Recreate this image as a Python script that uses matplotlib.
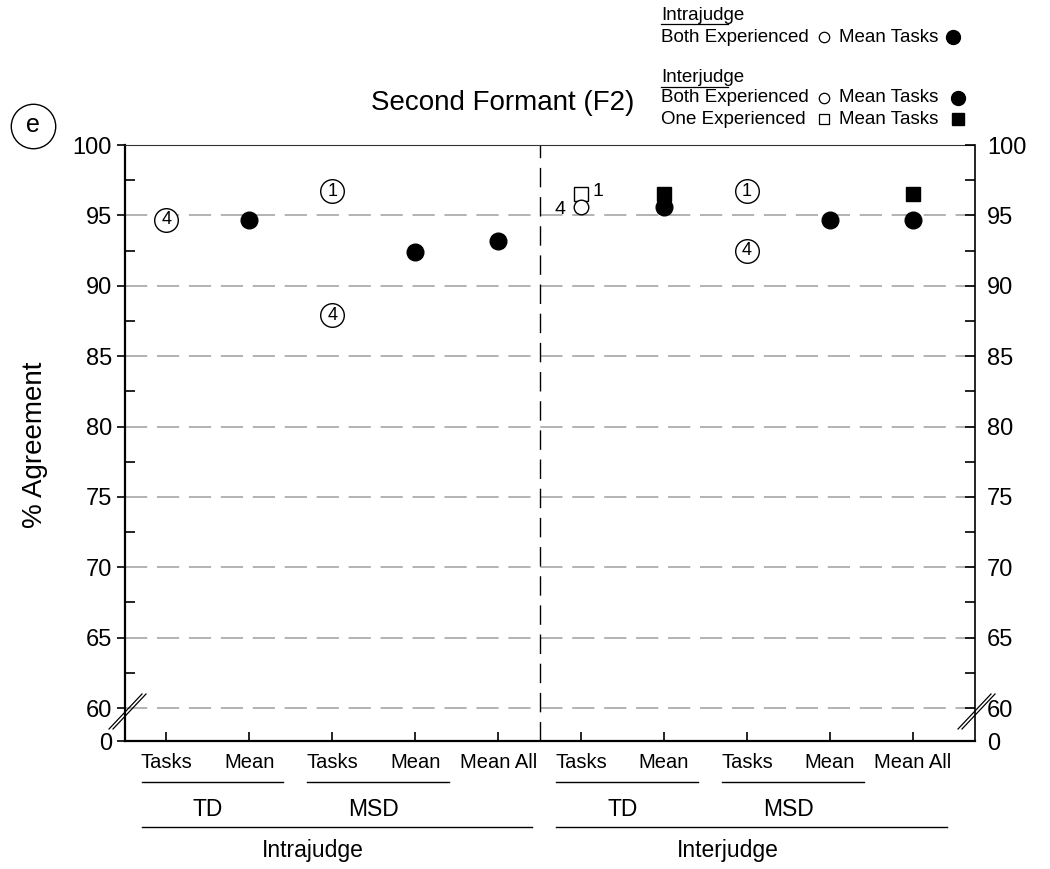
import matplotlib.pyplot as plt
from matplotlib.lines import Line2D

plt.rcParams['font.family'] = ['Liberation Sans', 'DejaVu Sans']
plt.rcParams['lines.scale_dashes'] = False

# category axis (two halves: intrajudge | interjudge)
categories = ["Tasks", "Mean", "Tasks", "Mean", "Mean All",
              "Tasks", "Mean", "Tasks", "Mean", "Mean All"]
positions = list(range(len(categories)))

# intrajudge: individual tasks (circled task number) and means
intra_task_x = [0, 2, 2]
intra_task_y = [94.7, 96.7, 87.9]
intra_task_id = ["4", "1", "4"]
intra_mean_x = [1, 3, 4]
intra_mean_y = [94.7, 92.4, 93.2]

# interjudge: circled tasks, both-experienced / one-experienced points
inter_task_x = [7, 7]
inter_task_y = [96.7, 92.5]
inter_task_id = ["1", "4"]
inter_both_task_x = [5]
inter_both_task_y = [95.6]
inter_both_task_id = ["4"]
inter_one_task_x = [5]
inter_one_task_y = [96.5]
inter_one_task_id = ["1"]
inter_both_mean_x = [6, 8, 9]
inter_both_mean_y = [95.6, 94.7, 94.7]
inter_one_mean_x = [6, 9]
inter_one_mean_y = [96.5, 96.5]

# broken y axis: the "0" tick sits just below 60
Y_ZERO = 57.66
ytick_values = [Y_ZERO, 60, 65, 70, 75, 80, 85, 90, 95, 100]
ytick_labels = ["0", "60", "65", "70", "75", "80", "85", "90", "95", "100"]
yminor_values = [62.5, 67.5, 72.5, 77.5, 82.5, 87.5, 92.5, 97.5]
grid_levels = [60, 65, 70, 75, 80, 85, 90, 95]

# bracket groups: (label, first index, last index, level)
groups = [("TD", 0, 1, 1), ("MSD", 2, 3, 1), ("Intrajudge", 0, 4, 2),
          ("TD", 5, 6, 1), ("MSD", 7, 8, 1), ("Interjudge", 5, 9, 2)]

W, H = 1050, 869


def fx(x):
    return x / W


def fy(y):
    return 1 - y / H


fig = plt.figure(figsize=(10.5, 8.69), dpi=100)
ax = fig.add_axes([fx(125), fy(741), 850 / W, 596 / H])
ax.set_xlim(-0.5, 9.75)
ax.set_ylim(Y_ZERO, 100)

for lev in grid_levels:
    ax.axhline(lev, color="#a6a6a6", lw=1.2, ls=(0, (16, 7)), zorder=1)
ax.axvline(4.5, color="black", lw=1.0, ls=(0, (14, 7)), zorder=1)

# circled task numbers
for xs, ys, ids in [(intra_task_x, intra_task_y, intra_task_id),
                    (inter_task_x, inter_task_y, inter_task_id)]:
    ax.plot(xs, ys, "o", ms=17, mfc="white", mec="black", mew=1.0,
            ls="none", zorder=3)
    for x, y, t in zip(xs, ys, ids):
        ax.text(x, y, t, ha="center", va="center", fontsize=13, zorder=4)

ax.plot(intra_mean_x, intra_mean_y, "o", ms=12, color="black", ls="none", zorder=3)
ax.plot(inter_both_mean_x, inter_both_mean_y, "o", ms=12, color="black",
        ls="none", zorder=3)
ax.plot(inter_one_mean_x, inter_one_mean_y, "s", ms=10.5, color="black",
        ls="none", zorder=3)

ax.plot(inter_one_task_x, inter_one_task_y, "s", ms=9.5, mfc="white",
        mec="black", mew=1.0, ls="none", zorder=3)
ax.plot(inter_both_task_x, inter_both_task_y, "o", ms=10.5, mfc="white",
        mec="black", mew=1.0, ls="none", zorder=4)
for x, y, t in zip(inter_both_task_x, inter_both_task_y, inter_both_task_id):
    ax.annotate(t, (x, y), xytext=(-15, -1.5), textcoords="offset points",
                ha="center", va="center", fontsize=14)
for x, y, t in zip(inter_one_task_x, inter_one_task_y, inter_one_task_id):
    ax.annotate(t, (x, y), xytext=(12, 2), textcoords="offset points",
                ha="center", va="center", fontsize=14)

# axes styling
ax.spines["left"].set_linewidth(1.6)
ax.spines["bottom"].set_linewidth(1.6)
ax.spines["right"].set_linewidth(1.2)
ax.spines["top"].set_linewidth(0.8)
ax.spines["top"].set_color("#333333")

ax.set_xticks(positions, categories, fontsize=14.5)
ax.tick_params(axis="x", direction="in", length=6.5, width=1.2, pad=9)

ax.set_yticks(ytick_values, ytick_labels, fontsize=17)
ax.set_yticks(yminor_values, minor=True)
ax.tick_params(axis="y", which="major", direction="out", length=6, width=1.2, pad=3.5)
ax.tick_params(axis="y", which="minor", direction="in", length=7, width=1.2)

ax2 = ax.twinx()
ax2.set_ylim(Y_ZERO, 100)
for s in ax2.spines.values():
    s.set_visible(False)
ax2.set_yticks(ytick_values, ytick_labels, fontsize=17)
ax2.set_yticks(yminor_values, minor=True)
ax2.tick_params(axis="y", which="both", direction="in", length=7, width=1.2, pad=8.5)

# axis breaks
for x0 in (109, 958):
    for dx in (0, 4):
        fig.add_artist(Line2D([fx(x0 + dx), fx(x0 + dx + 33)], [fy(729), fy(694)],
                              color="black", lw=0.9))

# group brackets below the category labels
trans = ax.get_xaxis_transform()
line_y = {1: (741 - 782) / 596, 2: (741 - 827) / 596}
text_y = {1: (741 - 810) / 596, 2: (741 - 851) / 596}
for label, i0, i1, lev in groups:
    ax.plot([i0 - 0.3, i1 + 0.41], [line_y[lev]] * 2, color="black", lw=1.0,
            transform=trans, clip_on=False)
    cx = (i0 + i1) / 2 - (0.23 if lev == 2 else 0.0)
    ax.text(cx, text_y[lev], label, transform=trans, ha="center", va="center",
            fontsize=16.5)

# labels and title
fig.text(fx(35), fy(445), "% Agreement", rotation=90, ha="center", va="center",
         fontsize=20)
fig.text(fx(503), fy(103), "Second Formant (F2)", ha="center", va="center",
         fontsize=20)
fig.add_artist(Line2D([fx(33)], [fy(126)], marker="o", ms=32, mfc="none",
                      mec="black", mew=1.0))
fig.text(fx(33), fy(125), "e", ha="center", va="center", fontsize=18)

# key in the top-right corner
fs = 13.5
for y, head in [(15, "Intrajudge"), (78, "Interjudge")]:
    fig.text(fx(661), fy(y), head, va="center", fontsize=fs)
    fig.add_artist(Line2D([fx(661), fx(728)], [fy(y + 9), fy(y + 9)],
                          color="black", lw=0.9))
rows = [(37, "Both Experienced", "o", "o", 953),
        (98, "Both Experienced", "o", "o", 958),
        (119, "One Experienced", "s", "s", 958)]
for y, name, open_m, fill_m, fill_x in rows:
    fig.text(fx(661), fy(y), name, va="center", fontsize=fs)
    fig.text(fx(839), fy(y), "Mean Tasks", va="center", fontsize=fs)
    fig.add_artist(Line2D([fx(824)], [fy(y)], marker=open_m, ms=7.5,
                          mfc="white", mec="black", mew=0.9))
    fig.add_artist(Line2D([fx(fill_x)], [fy(y)], marker=fill_m,
                          ms=10 if fill_m == "o" else 9, color="black"))

fig.savefig("out.png", dpi=100)
